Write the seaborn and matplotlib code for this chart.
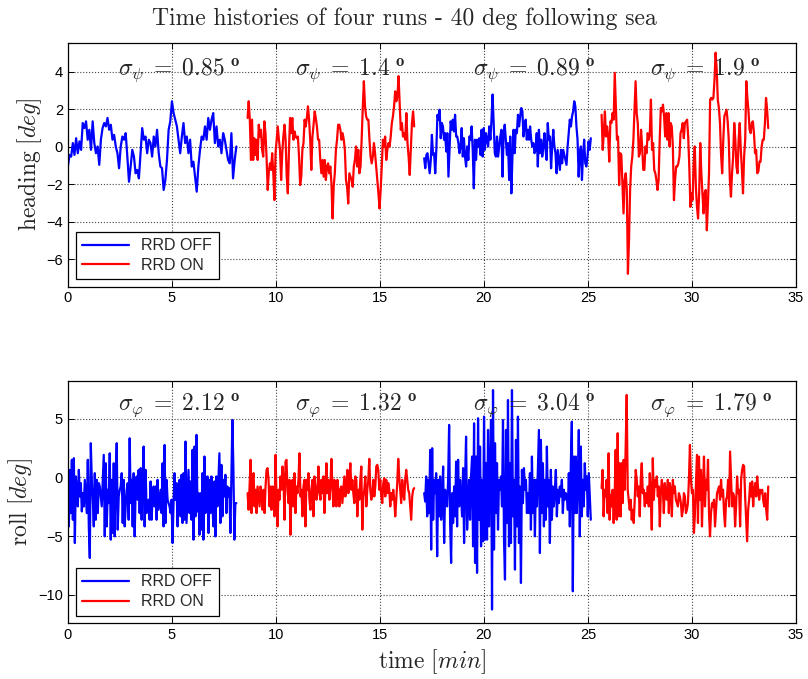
import numpy as np
import pandas as pd
import matplotlib
matplotlib.use("Agg")
import matplotlib.pyplot as plt
import seaborn as sns

# run start / end times [min]
run_start = [0.0, 8.64, 17.13, 25.66]
run_end = [8.10, 16.65, 25.14, 33.67]
run_label = ["RRD OFF", "RRD ON", "RRD OFF", "RRD ON"]

# heading [deg], one list per run
heading_run1 = [-1.05, -0.43, -0.52, 0.2, -0.43, 0.46, -0.34, 0.29, -0.16, 1.27, 1.0, 1.36, 0.38, 0.91, -0.16,
                1.36, 0.2, -0.34, 0.02, -0.96, 0.38, 1.0, 1.27, 1.09, 1.54, 0.91, 1.18, 0.38, 0.64, 0.02, -0.34,
                -1.14, 0.02, 0.55, 0.38, 0.73, -0.52, -1.86, -1.05, -0.16, -0.52, -1.41, -1.23, -1.68, -0.34,
                1.0, 0.38, 0.55, -0.34, 0.38, 0.2, -0.52, 0.55, 0.02, 0.91, -0.34, -1.05, -1.14, -2.3, -1.77,
                -0.7, 0.91, 1.36, 2.43, 1.8, 1.45, 1.09, 0.38, -0.34, 0.55, 1.27, 0.2, 0.55, -0.34, 0.38, -1.05,
                -0.79, -1.59, -2.39, -1.05, -0.16, 0.55, 0.38, 1.09, 0.38, 1.54, 0.91, 1.45, 1.8, 0.2, 1.09,
                0.02, 0.38, -0.34, 0.73, 0.38, -0.16, -0.7, -0.88, 0.73, -1.68, -0.7, 0.02]
heading_run2 = [1.54, 2.43, 1.45, -0.70, 1.45, -0.70, 0.46, -0.43, 0.38, -0.70, 1.18, 0.55, 0.91, -0.16, -0.52,
                1.36, 0.73, -0.61, -2.30, -1.32, -0.88, -1.23, -0.34, -1.41, -2.84, -0.34, 0.38, 1.09, 0.38,
                -0.16, -1.77, -0.34, 0.55, 1.18, 0.38, -1.59, -2.48, -0.16, 1.54, 0.73, 1.54, 0.38, 0.82, 0.55,
                0.46, 0.55, -0.52, -2.04, -1.59, -0.16, 0.20, 1.45, 1.09, 1.54, 2.16, 1.45, 0.38, -1.23, 0.55,
                1.18, 1.89, 1.54, 1.09, 0.38, 0.38, -0.70, -1.41, -0.70, -1.59, -0.70, -1.77, -1.05, -0.88,
                -1.41, -1.05, -1.95, -3.82, -2.13, -1.41, -0.16, 0.38, 1.18, 1.18, 0.91, 0.38, 0.73, 0.38,
                -0.16, -1.77, -2.13, -3.02, -1.41, -1.59, -1.77, -2.13, -1.05, -0.70, 0.02, -1.05, -0.16,
                -1.41, -1.05, 0.38, 2.07, 3.50, 2.16, 1.63, 1.45, 1.45, 0.38, -0.52, -0.88, -0.52, 0.20,
                -0.34, -1.05, -1.77, -2.48, -3.29, -2.30, -1.05, 0.38, 0.02, 0.55, -0.70, -0.16, 0.20, 0.02,
                0.55, 1.27, 1.63, 2.16, 2.96, 2.43, 2.70, 3.77, 2.34, 0.91, 1.27, 0.55, 0.73, 0.38, 1.80,
                0.20, -0.52, -1.50, -0.16, 1.27, 1.89, 1.09]
heading_run3 = [-0.61, -1.14, -0.43, -0.34, -0.88, -1.41, -0.70, 0.64, -0.43, -0.34, -1.41, -0.16, 1.71, 1.45,
                1.98, 0.46, 1.27, 1.09, 0.38, 0.73, -0.25, 0.73, -1.59, -0.16, 1.36, 0.91, 1.45, 0.82, 1.71,
                0.55, 0.55, 0.20, -0.34, 0.02, 1.00, -0.52, 0.46, -0.52, -1.05, 0.02, -0.70, 0.55, 0.38, 1.09,
                -0.16, -2.21, 0.38, -0.70, 0.38, 0.02, 0.46, -0.43, 0.91, -0.52, 1.00, -0.16, 0.73, 0.38, 0.02,
                1.09, 0.38, 1.45, 2.79, 1.27, -0.34, -0.52, 0.55, -0.52, 0.02, 0.55, 0.91, -1.59, 0.73, 1.18,
                0.38, -0.43, 0.20, -1.77, 0.55, -2.48, -0.52, 0.91, -0.34, 0.91, 0.73, 1.71, 1.09, 1.63, 2.07,
                1.89, 0.55, 1.09, 1.45, 0.38, 0.91, 0.38, 1.09, 0.38, 0.02, 0.20, -0.34, -0.16, 0.73, -1.05,
                0.91, -0.34, 0.38, -0.52, 0.02, 0.73, -0.16, -0.70, 1.27, 0.38, 0.55, -1.14, 0.02, 0.91, 0.02,
                -0.34, -1.41, -0.16, -0.70, -1.23, -0.16, -0.88, -0.16, -0.43, -0.70, -0.96, 0.02, 0.73, 1.45,
                1.09, 1.63, 1.89, 2.43, 2.16, 1.09, 0.38, -1.59, -0.34, 0.02, -1.77, -0.34, 0.38, -0.88, -1.05,
                -0.52, 0.29, -0.16, 0.46]
heading_run4 = [1.71, -0.16, 0.73, 1.89, 0.55, 1.09, 0.55, -0.79, 1.36, 1.27, 1.80, 1.45, 3.95, 2.16, 0.38, 0.55,
                -2.04, -0.34, -0.43, -1.95, -3.55, -1.77, -1.41, -2.30, -6.77, -4.98, -2.30, -1.05, -0.52, 0.38,
                1.98, 3.50, 1.80, 1.27, -0.52, -0.34, 0.91, 0.02, -1.23, -1.23, 0.02, -0.34, 0.73, 0.38, 0.73,
                2.52, -0.16, 0.20, -1.23, -1.41, -1.77, -2.30, -1.77, 0.38, 2.07, 1.89, 2.25, 1.63, 0.55, 1.80,
                0.38, 1.80, 0.02, 1.27, 1.09, 0.02, -2.84, -1.77, -1.05, -1.05, -0.88, -0.52, 0.73, 0.91, 1.27,
                0.46, 1.27, 1.36, 1.45, 0.55, -1.05, -3.20, -2.48, -2.84, -0.88, 0.02, -2.13, -3.20, -3.82,
                -2.48, 0.20, -1.41, -2.48, -3.55, -2.48, -2.30, -4.45, -3.02, -1.41, 2.52, 2.61, 2.52, 2.61,
                3.59, 5.02, 4.13, 2.52, 2.07, 1.27, -0.43, -1.41, 0.38, 1.63, 1.80, 1.98, 1.36, 0.38, -1.77,
                -2.66, -1.41, -0.52, 1.27, 0.38, -1.05, -1.41, 0.38, 1.27, -0.16, -1.23, -2.48, -0.52, 0.38,
                3.50, 2.61, 1.89, 0.91, 0.73, 1.27, 1.36, 0.73, -0.34, -0.16, -1.41, -1.32, -0.79, -0.79, 0.02,
                0.38, 0.38, 1.27, 2.61, 1.98, 1.00]

# roll [deg]
roll_run1 = [-1.34, -4.18, 0.65, -3.04, 1.51, -3.61, 1.65, -5.60, 0.09, -1.05, -2.47, 0.65, -1.62, -0.48, -2.90,
             -1.34, -2.47, -0.20, -1.62, -3.04, 1.51, -4.18, -6.88, 2.93, -0.20, -1.90, -4.18, 0.37, -3.61,
             -0.20, -3.04, -0.48, -0.77, -1.62, -2.47, -0.20, 1.93, -5.03, 1.22, -4.18, -1.05, -2.19, 2.07,
             -5.31, -0.20, -4.74, 1.22, -5.03, -0.20, 2.93, -4.46, -1.62, -1.05, -0.77, 0.37, -3.89, -0.20,
             -4.18, -2.47, -1.05, -0.48, -3.61, 3.35, -2.19, -0.20, -4.18, 0.37, -5.03, -1.05, 0.09, -1.90,
             0.65, -3.04, 0.80, -3.61, -0.20, 2.64, -4.18, 0.65, -3.04, -2.19, -1.90, -3.61, -0.34, -3.61,
             -1.76, -0.77, -2.47, -0.77, -3.61, -0.20, -2.76, -1.90, -1.05, -3.04, 1.22, -4.18, 2.78, -3.89,
             -0.20, -1.90, -2.19, -2.47, -3.04, -1.90, -5.60, -2.19, 0.37, -1.90, -0.48, -4.18, -1.05, -0.20,
             -3.32, 0.23, -3.89, 0.37, -3.61, 3.07, -3.89, -1.62, 0.65, -3.04, -0.34, -3.61, 2.36, -5.31,
             2.64, -3.32, 3.64, -2.90, -1.34, -4.89, -1.34, -4.46, 0.37, -5.31, 1.79, -3.04, -1.62, 0.09,
             -4.74, -0.20, -3.04, 0.09, -2.47, -4.18, -0.34, -5.03, 0.09, -2.47, -0.20, 2.07, -3.89, 1.08,
             -3.32, -0.20, -1.62, 0.23, -3.04, -0.77, -1.62, -0.91, -4.74, -0.20, 4.91, 0.94, -5.31, -2.19,
             -2.19]
roll_run2 = [-1.34, -2.76, -0.77, 1.51, -3.04, -0.20, 0.37, -2.47, -1.05, -3.04, -0.77, -1.62, -2.47, -0.77,
             -1.34, -2.76, -1.05, -3.04, -0.77, 0.65, 0.80, -0.20, -2.47, -0.77, -2.76, -0.77, -1.62, -3.32,
             1.93, -1.90, -4.18, -1.05, -1.90, 0.09, -1.05, 0.94, -0.20, -3.61, 1.36, 1.51, -1.05, -2.19,
             -0.20, -4.89, -1.05, -0.20, -2.47, 0.37, -3.04, -0.77, -1.34, -0.20, 2.07, -1.62, -1.05, -3.32,
             -0.77, -0.20, -4.18, -0.20, -1.05, 0.37, -1.90, -2.76, -1.05, -0.20, -3.32, 0.09, -0.77, -1.90,
             -1.34, 0.94, -1.05, -1.90, -0.20, -1.34, 0.09, -3.04, -1.05, 1.22, -1.34, -0.20, -1.90, -0.77,
             1.59, -0.77, -2.47, -0.20, -1.05, -2.47, -0.20, -1.05, -2.47, -1.05, -0.77, -2.19, -1.05, 0.09,
             -1.62, -0.77, 0.65, -1.34, -0.20, 1.22, -1.05, -0.20, -1.34, -2.19, 0.09, -0.20, -3.32, -1.05,
             -1.90, -0.20, 0.94, -4.46, -1.62, -1.05, 0.09, -2.47, -1.05, -0.20, 1.59, -1.05, -1.90, -1.34,
             -0.20, -1.62, -0.77, 0.94, 1.08, 0.65, -1.05, -0.20, -1.62, -2.19, -0.48, -0.06, -1.62, -0.20,
             -1.34, -0.48, -1.05, -2.47, -1.34, -1.90, -1.05, -1.90, -3.32, -1.90, -0.48, 1.59, 0.09, -1.05,
             -2.19, -0.20, -1.34, -1.90, -0.20, 0.65, -0.20, -1.05, -1.34, -2.47, -3.61, -1.62, -1.05, -0.91]
roll_run3 = [-1.34, -2.05, 0.09, -3.32, -0.20, -3.04, 2.36, -6.16, 2.50, -3.61, -0.20, -1.34, 0.37, -6.73, -0.20,
             -3.32, 0.09, -3.61, -1.90, 0.94, -5.60, -1.05, -2.19, -2.47, -0.20, 4.49, -3.89, -7.30, -1.34,
             -3.89, -0.77, -3.32, 1.36, -4.18, 1.51, -2.47, -0.20, -1.62, -3.32, 0.80, -5.60, -0.20, 3.49,
             -4.46, -2.47, -0.20, -3.61, 0.09, 1.79, -5.88, 4.63, -7.30, 1.79, -8.15, 5.06, -3.61, 2.64, -5.88,
             -0.20, -5.45, 5.20, -5.31, 1.22, -5.31, 4.06, -4.18, 0.65, 4.91, -11.28, 7.47, -6.16, 2.93, -3.04,
             1.22, -4.46, -0.20, -1.05, 0.09, -2.47, 4.91, -5.31, -8.72, 4.06, -3.89, 6.62, -5.88, 1.22, -5.60,
             7.47, -3.32, -0.20, -7.87, 3.21, -4.18, 5.20, -5.60, -0.77, -9.01, 0.65, -2.19, 0.80, -1.05, -0.20,
             -3.04, -1.34, -3.04, 0.37, -4.46, 1.79, -3.04, -0.20, -5.03, -0.20, -2.47, 0.65, 4.06, -6.45, 3.21,
             -3.04, 1.22, -4.18, -0.20, -3.61, 2.64, -2.47, -0.20, -5.60, 0.65, -3.61, -0.77, -2.47, -1.05, 0.65,
             -3.32, -1.05, -2.19, -0.77, -1.62, -0.20, -3.04, -1.05, -1.90, -1.34, -1.62, -2.76, 0.37, -4.18,
             1.22, 4.77, -9.72, 1.79, -3.04, 1.79, -3.04, -0.20, 4.06, -5.03, 2.64, -3.32, -0.20, -2.47, 1.22,
             -1.05, 0.09, -3.32, 0.37, -1.62, -3.61]
roll_run4 = [-0.91, 0.65, -3.32, -1.05, -1.62, -0.20, -3.04, 2.07, -3.61, -1.48, -2.47, -1.05, -3.89, -1.62, 2.36,
             -3.61, 3.78, -3.32, 1.22, -3.32, 1.22, -2.19, 1.51, -1.05, 2.64, 7.05, -1.05, -1.90, -2.76, -1.90,
             -3.61, -2.76, -3.89, -1.90, 0.65, -0.20, -1.62, -0.77, -3.32, -0.20, 1.22, -1.34, -1.05, -2.47,
             -1.34, -2.19, -0.77, -2.47, 0.37, -1.62, -4.46, 1.65, -1.90, -0.20, -0.77, 0.09, -1.62, -0.77,
             -4.18, -1.34, -0.20, -1.05, -3.04, -0.48, -1.62, -1.90, -0.20, -3.04, -0.48, -1.05, -3.32, -0.20,
             -1.34, -0.77, -1.90, -2.19, -2.47, -1.34, -1.62, -2.19, -3.32, -2.76, -1.34, -1.62, -3.04, -2.76,
             -2.19, -0.20, 2.78, -0.20, -1.34, -1.05, -4.74, -3.04, -0.48, 1.93, -3.89, 1.79, -1.90, 0.65,
             -4.18, -0.91, 1.79, -2.47, -0.20, -1.05, 1.51, -3.04, -5.03, -3.04, -2.19, -2.47, -1.90, -4.18,
             -2.76, -1.34, -1.05, -0.77, -1.90, -0.20, -1.62, -1.05, -3.04, -4.18, -1.90, -1.62, -0.20, -2.47,
             2.22, -0.20, -2.47, -1.34, -1.62, -4.18, -2.47, 0.09, -1.34, -1.05, -4.18, -0.20, 0.65, 1.08, 0.94,
             -1.62, -3.61, -5.45, -2.76, -1.90, -0.48, -1.62, -0.34, -2.47, -1.05, -0.48, -1.62, 0.09, -1.05,
             -1.90, -1.05, -1.34, -1.05, -1.90, -2.47, -1.34, -2.76, -3.61, -0.77]

sigma_heading = ["0.85", "1.4", "0.89", "1.9"]
sigma_roll = ["2.12", "1.32", "3.04", "1.79"]

heading_runs = [heading_run1, heading_run2, heading_run3, heading_run4]
roll_runs = [roll_run1, roll_run2, roll_run3, roll_run4]


def make_frame(runs):
    parts = []
    for i, vals in enumerate(runs):
        t = np.linspace(run_start[i], run_end[i], len(vals))
        parts.append(pd.DataFrame({"time": t, "value": vals, "run": i, "label": run_label[i]}))
    return pd.concat(parts, ignore_index=True)


heading_df = make_frame(heading_runs)
roll_df = make_frame(roll_runs)

sns.set_style("ticks")
plt.rcParams["mathtext.fontset"] = "cm"
plt.rcParams["font.family"] = ["Liberation Sans", "DejaVu Sans"]
plt.rcParams["xtick.direction"] = "in"
plt.rcParams["ytick.direction"] = "in"
plt.rcParams["xtick.top"] = True
plt.rcParams["ytick.right"] = True

colors = {"RRD OFF": "#0000ff", "RRD ON": "#ff0000"}

fig = plt.figure(figsize=(8.08, 6.79), dpi=100)
ax1 = fig.add_axes([0.084, 0.578, 0.901, 0.359])
ax2 = fig.add_axes([0.084, 0.083, 0.901, 0.356])


def draw(ax, df, ylim, sym, sigmas, ytext, ylabel):
    for i in range(4):
        sub = df[df["run"] == i]
        sns.lineplot(data=sub, x="time", y="value", color=colors[run_label[i]], lw=1.6,
                     estimator=None, sort=False, ax=ax, label=run_label[i] if i < 2 else None)
    ax.set_xlim(0, 35)
    ax.set_ylim(*ylim)
    ax.grid(True, linestyle=":", color="#444444", linewidth=0.8)
    for s in ax.spines.values():
        s.set_linewidth(0.9)
        s.set_color("black")
    ax.tick_params(labelsize=10.5, length=4, width=0.7, colors="black")
    ax.set_xlabel("")
    ax.set_ylabel(ylabel, fontsize=17, labelpad=2)
    for i in range(4):
        ax.text(2.4 + 8.53 * i, ytext, r"$\sigma_{%s}\;=\;%s\;^{\mathbf{o}}$" % (sym, sigmas[i]),
                fontsize=17, ha="left", va="center")
    leg = ax.legend(loc="lower left", bbox_to_anchor=(0.011, 0.029), borderaxespad=0,
                    fontsize=11.5, frameon=True, fancybox=False, framealpha=1,
                    edgecolor="black", handlelength=2.9, borderpad=0.4, labelspacing=0.3)
    leg.get_frame().set_linewidth(0.9)
    for h in leg.get_lines():
        h.set_linewidth(1.6)


draw(ax1, heading_df, (-7.45, 5.55), r"\psi", sigma_heading, 4.1, r"$\mathrm{heading}\ [deg]$")
draw(ax2, roll_df, (-12.4, 8.25), r"\varphi", sigma_roll, 6.2, r"$\mathrm{roll}\ [deg]$")
ax1.set_yticks([-6, -4, -2, 0, 2, 4])
ax2.set_yticks([-10, -5, 0, 5])
ax2.set_xlabel(r"$\mathrm{time}\ [min]$", fontsize=17, labelpad=4)
fig.text(0.5, 0.973, "Time histories of four runs - 40 deg following sea", fontsize=17,
         family="cmr10", ha="center", va="center")

fig.savefig("out.png", dpi=100)
